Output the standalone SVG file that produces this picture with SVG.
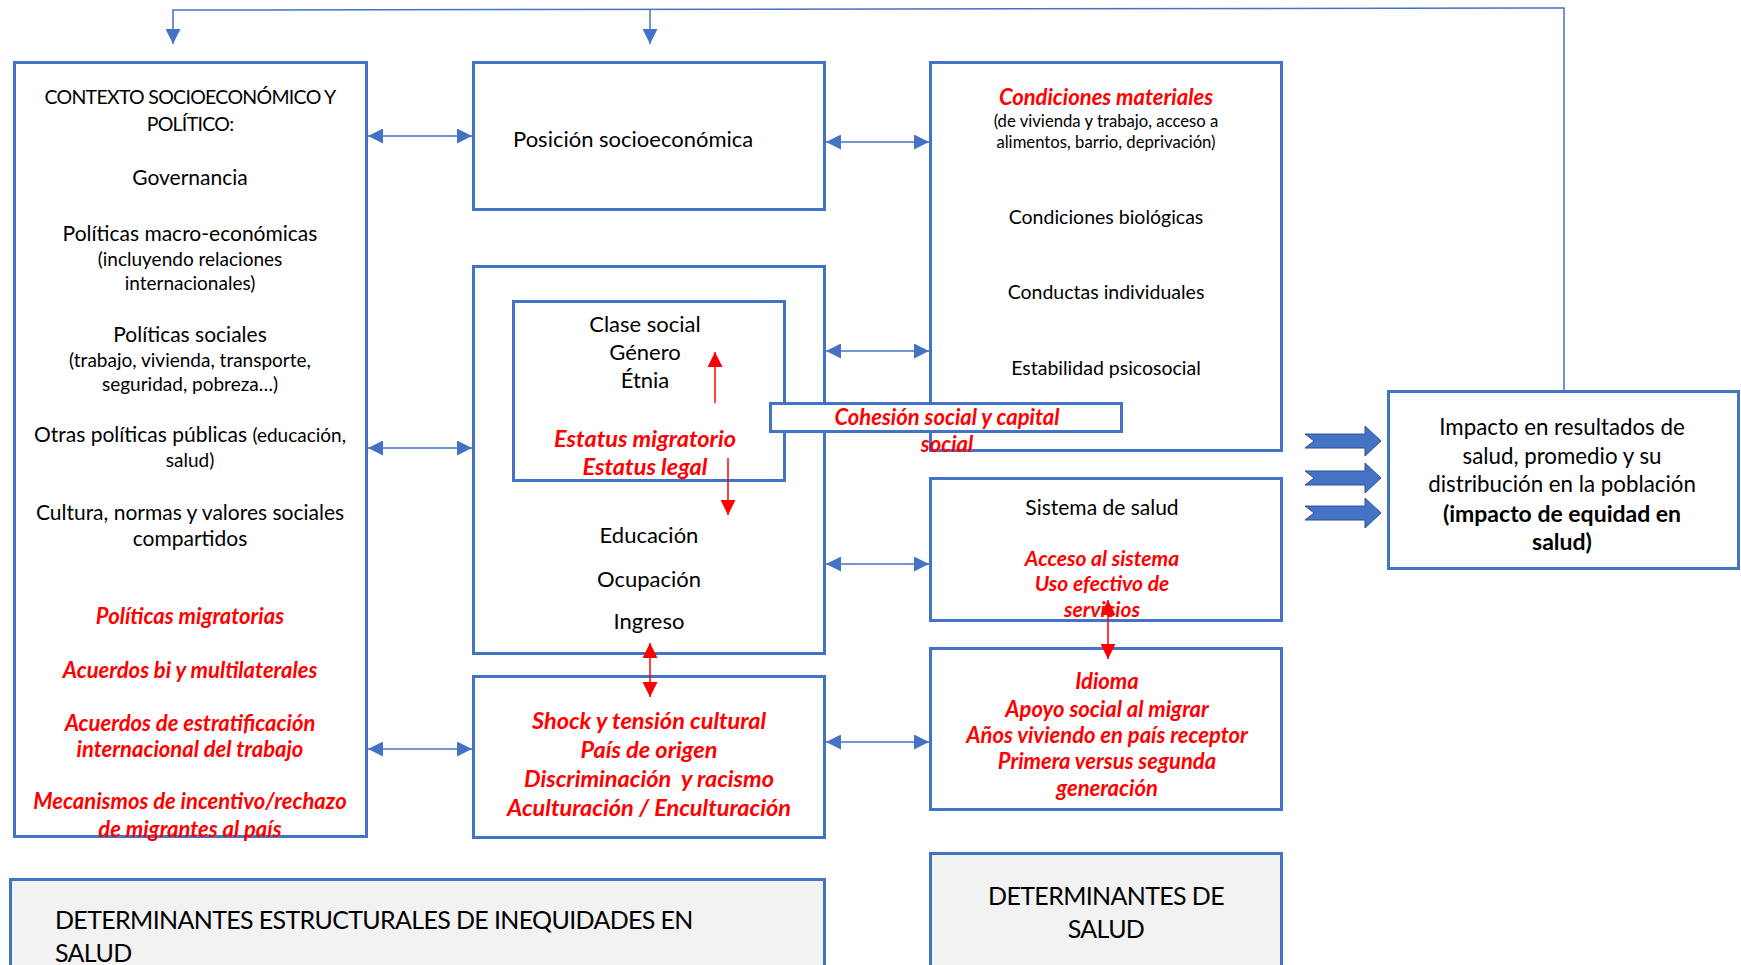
<svg xmlns="http://www.w3.org/2000/svg" width="1741" height="965" viewBox="0 0 1741 965">
<style>
.box{fill:#fff;stroke:#4472c4;stroke-width:3}
.gray{fill:#f2f2f2;stroke:#4472c4;stroke-width:3}
text{font-family:Lato,"Liberation Sans",sans-serif;font-size:21px;fill:#000;text-anchor:middle}
.s{font-size:19px}
.s2{font-size:16.7px}
.m{font-size:19.5px}
.p{font-size:22px}
.r{fill:#ff0000;font-weight:bold;font-style:italic;font-size:22px}
.rb{font-size:23.5px}
.rs{font-size:21px}
.i{font-size:22.3px}
.b{font-weight:bold;font-size:23px}
.caps{font-size:19.5px;letter-spacing:-0.7px}
.big{font-size:25px;letter-spacing:-0.65px}
.l{text-anchor:start}
.conn{stroke:#4472c4;stroke-width:1.5;fill:none}
.red{stroke:#ff0000;stroke-width:1.5;fill:none}
.fat{fill:#4472c4;stroke:#2f528f;stroke-width:1}
</style>
<defs>
<marker id="ab" markerUnits="userSpaceOnUse" markerWidth="15" markerHeight="15" viewBox="0 0 15 15" refX="15" refY="7.5" orient="auto-start-reverse"><path d="M0,0L15,7.5L0,15z" fill="#4472c4"/></marker>
<marker id="ar" markerUnits="userSpaceOnUse" markerWidth="15" markerHeight="15" viewBox="0 0 15 15" refX="15" refY="7.5" orient="auto-start-reverse"><path d="M0,0L15,7.5L0,15z" fill="#ff0000"/></marker>
</defs>

<g id="contexto">
<rect class="box" x="14.5" y="62.5" width="352" height="774"/>
<text class="caps" x="190" y="104">CONTEXTO SOCIOECONÓMICO Y</text>
<text class="caps" x="190" y="131">POLÍTICO:</text>
<text x="190" y="185">Governancia</text>
<text x="190" y="241">Políticas macro-económicas</text>
<text class="s" x="190" y="266">(incluyendo relaciones</text>
<text class="s" x="190" y="290">internacionales)</text>
<text x="190" y="342">Políticas sociales</text>
<text class="s" x="190" y="367">(trabajo, vivienda, transporte,</text>
<text class="s" x="190" y="391">seguridad, pobreza…)</text>
<text x="190" y="442">Otras políticas públicas <tspan class="s">(educación,</tspan></text>
<text class="s" x="190" y="467">salud)</text>
<text x="190" y="520">Cultura, normas y valores sociales</text>
<text x="190" y="546">compartidos</text>
<text class="r" x="190" y="624">Políticas migratorias</text>
<text class="r" x="190" y="678">Acuerdos bi y multilaterales</text>
<text class="r" x="190" y="731">Acuerdos de estratificación</text>
<text class="r" x="190" y="757">internacional del trabajo</text>
<text class="r" x="190" y="809">Mecanismos de incentivo/rechazo</text>
<text class="r" x="190" y="837">de migrantes al país</text>
</g>

<g id="posicion">
<rect class="box" x="473.5" y="62.5" width="351" height="147"/>
<text class="l p" x="513" y="147">Posición socioeconómica</text>
</g>

<g id="estratificadores">
<rect class="box" x="473.5" y="266.5" width="351" height="387"/>
<text class="p" x="649" y="543">Educación</text>
<text class="p" x="649" y="587">Ocupación</text>
<text class="p" x="649" y="629">Ingreso</text>
</g>

<g id="clase-social">
<rect class="box" x="513.5" y="301.5" width="271" height="179"/>
<text class="p" x="645" y="332">Clase social</text>
<text class="p" x="645" y="360">Género</text>
<text class="p" x="645" y="388">Étnia</text>
<text class="r rb" x="645" y="447">Estatus migratorio</text>
<text class="r rb" x="645" y="475">Estatus legal</text>
</g>

<g id="shock">
<rect class="box" x="473.5" y="676.5" width="351" height="161"/>
<text class="r rb" x="649" y="729">Shock y tensión cultural</text>
<text class="r rb" x="649" y="758">País de origen</text>
<text class="r rb" x="649" y="787" style="white-space:pre">Discriminación  y racismo</text>
<text class="r rb" x="649" y="816">Aculturación / Enculturación</text>
</g>

<g id="condiciones">
<rect class="box" x="930.5" y="62.5" width="351" height="388"/>
<text class="r" x="1106" y="105">Condiciones materiales</text>
<text class="s2" x="1106" y="127">(de vivienda y trabajo, acceso a</text>
<text class="s2" x="1106" y="148">alimentos, barrio, deprivación)</text>
<text class="m" x="1106" y="224">Condiciones biológicas</text>
<text class="m" x="1106" y="299">Conductas individuales</text>
<text class="m" x="1106" y="375">Estabilidad psicosocial</text>
</g>

<g id="sistema">
<rect class="box" x="930.5" y="478.5" width="351" height="142"/>
<text x="1102" y="515">Sistema de salud</text>
<text class="r rs" x="1102" y="566">Acceso al sistema</text>
<text class="r rs" x="1102" y="591">Uso efectivo de</text>
<text class="r rs" x="1102" y="617">servicios</text>
</g>

<g id="idioma">
<rect class="box" x="930.5" y="648.5" width="351" height="161"/>
<text class="r" x="1107" y="689">Idioma</text>
<text class="r" x="1107" y="717">Apoyo social al migrar</text>
<text class="r" x="1107" y="743">Años viviendo en país receptor</text>
<text class="r" x="1107" y="769">Primera versus segunda</text>
<text class="r" x="1107" y="796">generación</text>
</g>

<g id="cohesion">
<rect class="box" x="770.5" y="403.5" width="351" height="28"/>
<text class="r" x="947" y="425">Cohesión social y capital</text>
<text class="r" x="947" y="452">social</text>
</g>

<g id="impacto">
<rect class="box" x="1388.5" y="391.5" width="350" height="177"/>
<text class="i" x="1562" y="435">Impacto en resultados de</text>
<text class="i" x="1562" y="464">salud, promedio y su</text>
<text class="i" x="1562" y="492">distribución en la población</text>
<text class="b" x="1562" y="522">(impacto de equidad en</text>
<text class="b" x="1562" y="550">salud)</text>
</g>

<g id="det-estructurales">
<rect class="gray" x="10.5" y="879.5" width="814" height="100"/>
<text class="big l" x="55" y="929">DETERMINANTES ESTRUCTURALES DE INEQUIDADES EN</text>
<text class="big l" x="55" y="962">SALUD</text>
</g>

<g id="det-salud">
<rect class="gray" x="930.5" y="853.5" width="351" height="130"/>
<text class="big" x="1106" y="905">DETERMINANTES DE</text>
<text class="big" x="1106" y="938">SALUD</text>
</g>

<g id="connectors">
<path class="conn" d="M1564,390 V8 L173,10 V44" marker-end="url(#ab)"/>
<path class="conn" d="M650,9.4 V44" marker-end="url(#ab)"/>
<path class="conn" d="M368,136 H472" marker-start="url(#ab)" marker-end="url(#ab)"/>
<path class="conn" d="M368,448 H472" marker-start="url(#ab)" marker-end="url(#ab)"/>
<path class="conn" d="M368,749 H472" marker-start="url(#ab)" marker-end="url(#ab)"/>
<path class="conn" d="M826,142 H929" marker-start="url(#ab)" marker-end="url(#ab)"/>
<path class="conn" d="M826,351 H929" marker-start="url(#ab)" marker-end="url(#ab)"/>
<path class="conn" d="M826,564 H929" marker-start="url(#ab)" marker-end="url(#ab)"/>
<path class="conn" d="M826,742 H929" marker-start="url(#ab)" marker-end="url(#ab)"/>
<path class="red" d="M715,403 V352" marker-end="url(#ar)"/>
<path class="red" d="M728,458 V515" marker-end="url(#ar)"/>
<path class="red" d="M650,643 V697" marker-start="url(#ar)" marker-end="url(#ar)"/>
<path class="red" d="M1108,600 V659" marker-start="url(#ar)" marker-end="url(#ar)"/>
<polygon class="fat" points="1305,434 1365,434 1365,426 1381,441 1365,456 1365,448 1305,448 1314,441"/>
<polygon class="fat" points="1305,471 1365,471 1365,463 1381,478 1365,493 1365,485 1305,485 1314,478"/>
<polygon class="fat" points="1305,506 1365,506 1365,498 1381,513 1365,528 1365,520 1305,520 1314,513"/>
</g>
</svg>
